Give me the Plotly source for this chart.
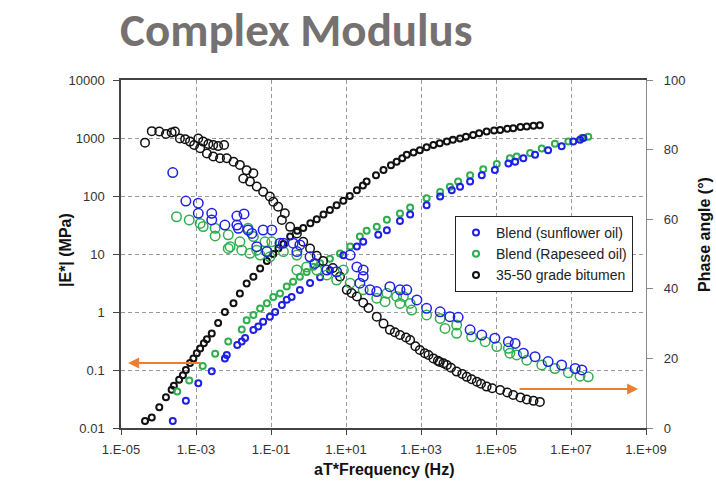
import math
import plotly.graph_objects as go

# ---- Blend (sunflower oil) ----
sunflower_mod_freq = [2.40e-4, 5.37e-4, 1.15e-3, 2.63e-3, 5.89e-3, 6.61e-3, 1.26e-2, 1.66e-2, 2.04e-2, 3.39e-2,
                      4.57e-2, 6.17e-2, 9.33e-2, 0.129, 0.195, 0.263, 0.355, 0.589, 1.10, 2.04,
                      3.72, 8.51, 19.5, 28.8, 72.4, 123, 275, 513, 1410, 3240,
                      6610, 1.10e4, 2.04e4, 4.17e4, 9.33e4, 2.14e5, 3.24e5, 5.37e5, 1.10e6, 2.45e6,
                      5.62e6, 1.15e7, 1.74e7, 2.14e7]
sunflower_modulus = [0.0132, 0.0295, 0.0589, 0.0955, 0.158, 0.182, 0.269, 0.309, 0.355, 0.49,
                     0.562, 0.676, 0.832, 1.0, 1.32, 1.62, 1.82, 2.4, 3.16, 3.98,
                     5.25, 9.55, 13.5, 16.2, 21.4, 25.7, 37.2, 47.9, 69.2, 97.7,
                     126, 145, 178, 229, 282, 363, 389, 447, 513, 617,
                     724, 871, 933, 1000]
sunflower_phase_freq = [2.40e-4, 5.37e-4, 1.15e-3, 1.15e-3, 2.63e-3, 2.63e-3, 5.89e-3, 1.23e-2, 1.91e-2, 1.23e-2,
                        1.35e-2, 2.45e-2, 3.09e-2, 4.17e-2, 6.17e-2, 7.76e-2, 0.105, 0.174, 0.214, 0.389,
                        0.49, 0.589, 1.10, 1.48, 3.09, 5.62, 12.9, 19.5, 28.8, 28.8,
                        23.4, 43.7, 66.1, 148, 275, 417, 776, 1410, 3240, 5890,
                        9770, 2.04e4, 4.17e4, 9.33e4, 2.14e5, 3.24e5, 5.37e5, 1.10e6, 2.45e6, 5.62e6,
                        1.29e7, 1.95e7]
sunflower_phase = [73.4, 65.2, 64.6, 61.7, 61.7, 59.8, 58.3, 60.9, 61.5, 58.3,
                   57.4, 56.9, 55.9, 52.1, 56.9, 50.7, 56.9, 53.1, 53.1, 53.1,
                   50.7, 52.6, 49.2, 47.3, 45.4, 44.9, 49.7, 46.3, 45.4, 43.5,
                   41.6, 39.7, 39.2, 40.6, 39.7, 39.7, 36.8, 34.4, 33.4, 32.0,
                   31.8, 28.2, 26.7, 25.8, 24.8, 24.3, 21.5, 20.5, 19.1, 18.1,
                   17.1, 16.7]

# ---- Blend (Rapeseed oil) ----
rapeseed_mod_freq = [3.16e-4, 6.61e-4, 1.51e-3, 3.24e-3, 7.24e-3, 1.66e-2, 2.24e-2, 3.39e-2, 5.13e-2, 7.76e-2,
                     0.115, 0.174, 0.263, 0.389, 0.589, 0.891, 1.35, 2.04, 3.72, 6.92,
                     12.9, 23.4, 35.5, 66.1, 123, 275, 513, 1410, 3240, 5890,
                     9770, 2.04e4, 4.57e4, 1.05e5, 2.34e5, 3.55e5, 8.13e5, 1.66e6, 3.72e6, 8.51e6,
                     1.95e7, 2.88e7]
rapeseed_modulus = [0.0427, 0.0661, 0.117, 0.191, 0.309, 0.501, 0.724, 0.891, 1.15, 1.41,
                    1.82, 2.09, 2.75, 3.31, 4.07, 4.9, 6.03, 6.92, 8.32, 10.2,
                    13.5, 20.0, 25.1, 29.5, 38.9, 50.1, 63.1, 91.2, 117, 145,
                    178, 229, 288, 355, 447, 479, 550, 661, 794, 871,
                    1000, 1047]
rapeseed_phase_freq = [3.02e-4, 6.61e-4, 1.29e-3, 1.55e-3, 3.24e-3, 3.24e-3, 7.24e-3, 7.24e-3, 8.13e-3, 1.48e-2,
                       1.66e-2, 2.45e-2, 2.75e-2, 3.39e-2, 4.17e-2, 5.13e-2, 6.92e-2, 7.76e-2, 9.33e-2, 0.105,
                       0.214, 0.49, 0.49, 0.891, 1.66, 3.09, 5.62, 8.51, 12.9, 28.8,
                       66.1, 110, 123, 224, 275, 339, 513, 562, 1410, 3240,
                       4370, 8910, 8910, 2.24e4, 5.13e4, 1.05e5, 2.14e5, 2.34e5, 3.55e5, 6.61e5,
                       1.66e6, 3.72e6, 8.51e6, 1.74e7, 2.88e7]
rapeseed_phase = [60.7, 59.8, 58.8, 57.9, 57.4, 55.2, 55.5, 51.6, 52.1, 53.5,
                  51.1, 57.4, 50.2, 55.0, 51.1, 49.7, 53.5, 50.7, 49.2, 53.5,
                  50.7, 49.7, 45.4, 46.3, 45.4, 44.0, 42.5, 45.4, 41.6, 39.7,
                  37.3, 36.3, 38.7, 37.8, 35.8, 37.8, 35.8, 33.9, 32.5, 31.5,
                  28.6, 29.6, 27.2, 26.2, 24.8, 23.4, 22.9, 21.5, 21.0, 19.5,
                  18.1, 17.1, 15.9, 14.9, 14.7]

# ---- 35-50 grade bitumen ----
bitumen_mod_freq = [4.37e-5, 6.61e-5, 1.05e-4, 1.58e-4, 2.24e-4, 2.57e-4, 3.55e-4, 4.47e-4, 5.37e-4, 6.92e-4,
                    8.51e-4, 1.05e-3, 1.29e-3, 1.62e-3, 1.95e-3, 2.63e-3, 3.89e-3, 5.89e-3, 1.0e-2, 1.48e-2,
                    2.24e-2, 3.39e-2, 5.13e-2, 7.76e-2, 0.115, 0.214, 0.324, 0.724, 1.66, 3.72,
                    8.51, 19.5, 35.5, 100, 224, 417, 933, 2140, 4900, 1.10e4,
                    2.45e4, 5.62e4, 1.29e5, 2.88e5, 6.61e5, 1.48e6,
                    0.158, 0.501, 1.12, 2.51, 5.62, 12.6, 28.2, 63.1, 158, 316,
                    631, 1410, 3160, 7080, 1.58e4, 3.55e4, 8.91e4, 2.0e5, 4.47e5, 1.0e6]
bitumen_modulus = [0.0132, 0.0151, 0.0229, 0.0339, 0.0457, 0.0537, 0.0676, 0.0813, 0.1, 0.132,
                   0.158, 0.195, 0.234, 0.288, 0.339, 0.427, 0.646, 1.0, 1.41, 2.09,
                   3.09, 4.07, 5.62, 7.59, 10.0, 14.8, 20.0, 28.2, 39.8, 57.5,
                   83.2, 126, 178, 282, 389, 513, 617, 759, 871, 977,
                   1122, 1288, 1380, 1479, 1585, 1660,
                   12.6, 25.1, 33.9, 47.9, 69.2, 100, 151, 229, 339, 447,
                   562, 692, 813, 933, 1047, 1202, 1349, 1445, 1549, 1622]
bitumen_phase_freq = [4.37e-5, 6.61e-5, 1.05e-4, 1.58e-4, 2.24e-4, 2.75e-4, 3.72e-4, 5.13e-4, 6.92e-4, 8.91e-4,
                      1.15e-3, 1.55e-3, 2.14e-3, 2.88e-3, 3.89e-3, 5.62e-3,
                      1.29e-3, 1.95e-3, 2.88e-3, 4.37e-3, 6.61e-3, 1.0e-2, 1.48e-2, 2.24e-2, 3.39e-2, 1.82e-2,
                      2.75e-2, 4.17e-2, 6.17e-2, 9.33e-2, 0.115, 0.155, 0.234, 0.195, 0.324, 0.49,
                      0.724, 1.10, 1.66, 2.45, 4.47, 6.92, 10.5, 19.5, 28.8, 66.1,
                      148, 275, 513, 933, 1260, 1580, 2140, 3160, 3980, 4900,
                      8910, 1.66e4, 3.09e4, 5.62e4, 1.29e5, 2.88e5, 6.61e5, 1.48e6,
                      14.1, 39.8, 100, 200, 398, 708, 2820, 6310, 1.26e4, 2.24e4,
                      3.98e4, 7.94e4, 2.0e5, 4.47e5, 1.0e6]
bitumen_phase = [82.0, 85.3, 85.2, 84.5, 84.9, 85.2, 83.2, 83.0, 82.3, 81.3,
                 83.2, 82.3, 81.6, 81.3, 81.0, 81.3,
                 80.4, 78.9, 78.0, 77.5, 77.5, 76.5, 75.6, 74.1, 73.2, 71.7,
                 70.8, 69.4, 67.9, 66.5, 65.0, 63.6, 61.7, 59.8, 57.8, 55.9,
                 53.5, 51.6, 49.5, 48.0, 46.0, 43.5, 39.7, 37.8, 36.0, 32.0,
                 28.2, 26.7, 25.3, 22.4, 21.5, 21.0, 20.0, 19.0, 18.6, 18.1,
                 16.2, 14.7, 13.3, 11.9, 10.9, 9.5, 8.2, 7.5,
                 38.8, 34.5, 30.0, 27.5, 26.0, 23.5, 19.3, 17.3, 15.5, 14.0,
                 12.7, 11.4, 10.2, 8.8, 7.8]

# ---- axis ticks ----
x_tick_values = [1e-5, 1e-3, 1e-1, 1e1, 1e3, 1e5, 1e7, 1e9]
x_tick_labels = ["1.E-05", "1.E-03", "1.E-01", "1.E+01", "1.E+03", "1.E+05", "1.E+07", "1.E+09"]
y_tick_values = [0.01, 0.1, 1, 10, 100, 1000, 10000]
y_tick_labels = ["0.01", "0.1", "1", "10", "100", "1000", "10000"]
phase_tick_values = [0, 20, 40, 60, 80, 100]

# ---- arrows pointing to the axis each curve family belongs to (freq, value) ----
modulus_arrow_tail = (1.45e-3, 0.132)
modulus_arrow_head = (1.55e-5, 0.132)
phase_arrow_tail = (3.89e5, 11.2)
phase_arrow_head = (6.17e8, 11.2)

BLUE = "#1f1fe6"
GREEN = "#2fae4e"
BLACK = "#111111"
ORANGE = "#ED7D31"

W, H = 716, 482
L, R, T, B = 121, 70, 80, 54
PW, PH = W - L - R, H - T - B


def px(x):
    return (x - L) / PW


def py(y):
    return (H - B - y) / PH


fig = go.Figure()

series = [
    ("35-50 grade bitumen", BLACK, bitumen_mod_freq, bitumen_modulus, bitumen_phase_freq, bitumen_phase, 3, 8.5),
    ("Blend (Rapeseed oil)", GREEN, rapeseed_mod_freq, rapeseed_modulus, rapeseed_phase_freq, rapeseed_phase, 2, 9.5),
    ("Blend (sunflower oil)", BLUE, sunflower_mod_freq, sunflower_modulus, sunflower_phase_freq, sunflower_phase, 1, 9.5),
]

for name, color, mf, mv, pf, pv, rank, psize in series:
    fig.add_trace(go.Scatter(
        x=pf, y=pv, mode="markers", name=name, yaxis="y2", showlegend=False,
        marker=dict(symbol="circle-open", size=psize, color=color, line=dict(width=1.5)),
    ))
    fig.add_trace(go.Scatter(
        x=mf, y=mv, mode="markers", name=name, legendrank=rank,
        marker=dict(symbol="circle-open", size=6, color=color, line=dict(width=2)),
    ))

grid = dict(showgrid=True, gridcolor="#9a9a9a", gridwidth=1, griddash="4px,3px")
tickfont = dict(family="Arial, Liberation Sans, sans-serif", size=13, color="#333333")

fig.update_layout(
    width=W, height=H, autosize=False,
    margin=dict(l=L, r=R, t=T, b=B),
    paper_bgcolor="white", plot_bgcolor="white",
    xaxis=dict(type="log", range=[-5, 9], tickvals=x_tick_values, ticktext=x_tick_labels,
               ticks="outside", ticklen=5, tickcolor="#444444", ticklabelstandoff=4,
               showline=True, linecolor="#444444", linewidth=1.5, mirror=True,
               tickfont=tickfont, zeroline=False, **grid),
    yaxis=dict(type="log", range=[-2, 4], tickvals=y_tick_values, ticktext=y_tick_labels,
               ticks="outside", ticklen=6, tickcolor="#444444", ticklabelstandoff=6,
               showline=True, linecolor="#444444", linewidth=1.5,
               tickfont=tickfont, zeroline=False, **grid),
    yaxis2=dict(overlaying="y", side="right", range=[0, 100], tickvals=phase_tick_values,
                ticks="outside", ticklen=6, tickcolor="#888888", ticklabelstandoff=8,
                showline=True, linecolor="#8a8a8a", linewidth=1.2, showgrid=False,
                tickfont=tickfont, zeroline=False),
    legend=dict(x=px(455), y=py(216), xanchor="left", yanchor="top",
                bgcolor="white", bordercolor="#222222", borderwidth=1,
                font=dict(family="Arial, Liberation Sans, sans-serif", size=14, color="#222222"),
                itemwidth=30, tracegroupgap=0),
)

label_font = dict(family="Arial, Liberation Sans, sans-serif", size=16, color="#111111")
fig.add_annotation(text="<b>Complex Modulus</b>", xref="paper", yref="paper",
                   x=px(296), y=py(30), xanchor="center", yanchor="middle", showarrow=False,
                   font=dict(family="Calibri, Carlito, Lato, sans-serif", size=47, color="#767171"))
fig.add_annotation(text="<b>|E*| (MPa)</b>", xref="paper", yref="paper",
                   x=px(65), y=py(250), textangle=-90, showarrow=False,
                   xanchor="center", yanchor="middle", font=label_font)
fig.add_annotation(text="<b>Phase angle (°)</b>", xref="paper", yref="paper",
                   x=px(704), y=py(235), textangle=-90, showarrow=False,
                   xanchor="center", yanchor="middle", font=label_font)
fig.add_annotation(text="<b>aT*Frequency (Hz)</b>", xref="paper", yref="paper",
                   x=px(384), y=py(469), showarrow=False,
                   xanchor="center", yanchor="middle", font=label_font)

fig.add_annotation(x=math.log10(modulus_arrow_head[0]), y=math.log10(modulus_arrow_head[1]),
                   ax=math.log10(modulus_arrow_tail[0]), ay=math.log10(modulus_arrow_tail[1]),
                   xref="x", yref="y", axref="x", ayref="y", text="", showarrow=True,
                   arrowhead=2, arrowsize=1.1, arrowwidth=2, arrowcolor=ORANGE, standoff=0)
fig.add_annotation(x=math.log10(phase_arrow_head[0]), y=phase_arrow_head[1],
                   ax=math.log10(phase_arrow_tail[0]), ay=phase_arrow_tail[1],
                   xref="x", yref="y2", axref="x", ayref="y2", text="", showarrow=True,
                   arrowhead=2, arrowsize=1.1, arrowwidth=2, arrowcolor=ORANGE, standoff=0)

fig.write_html("out.html")
